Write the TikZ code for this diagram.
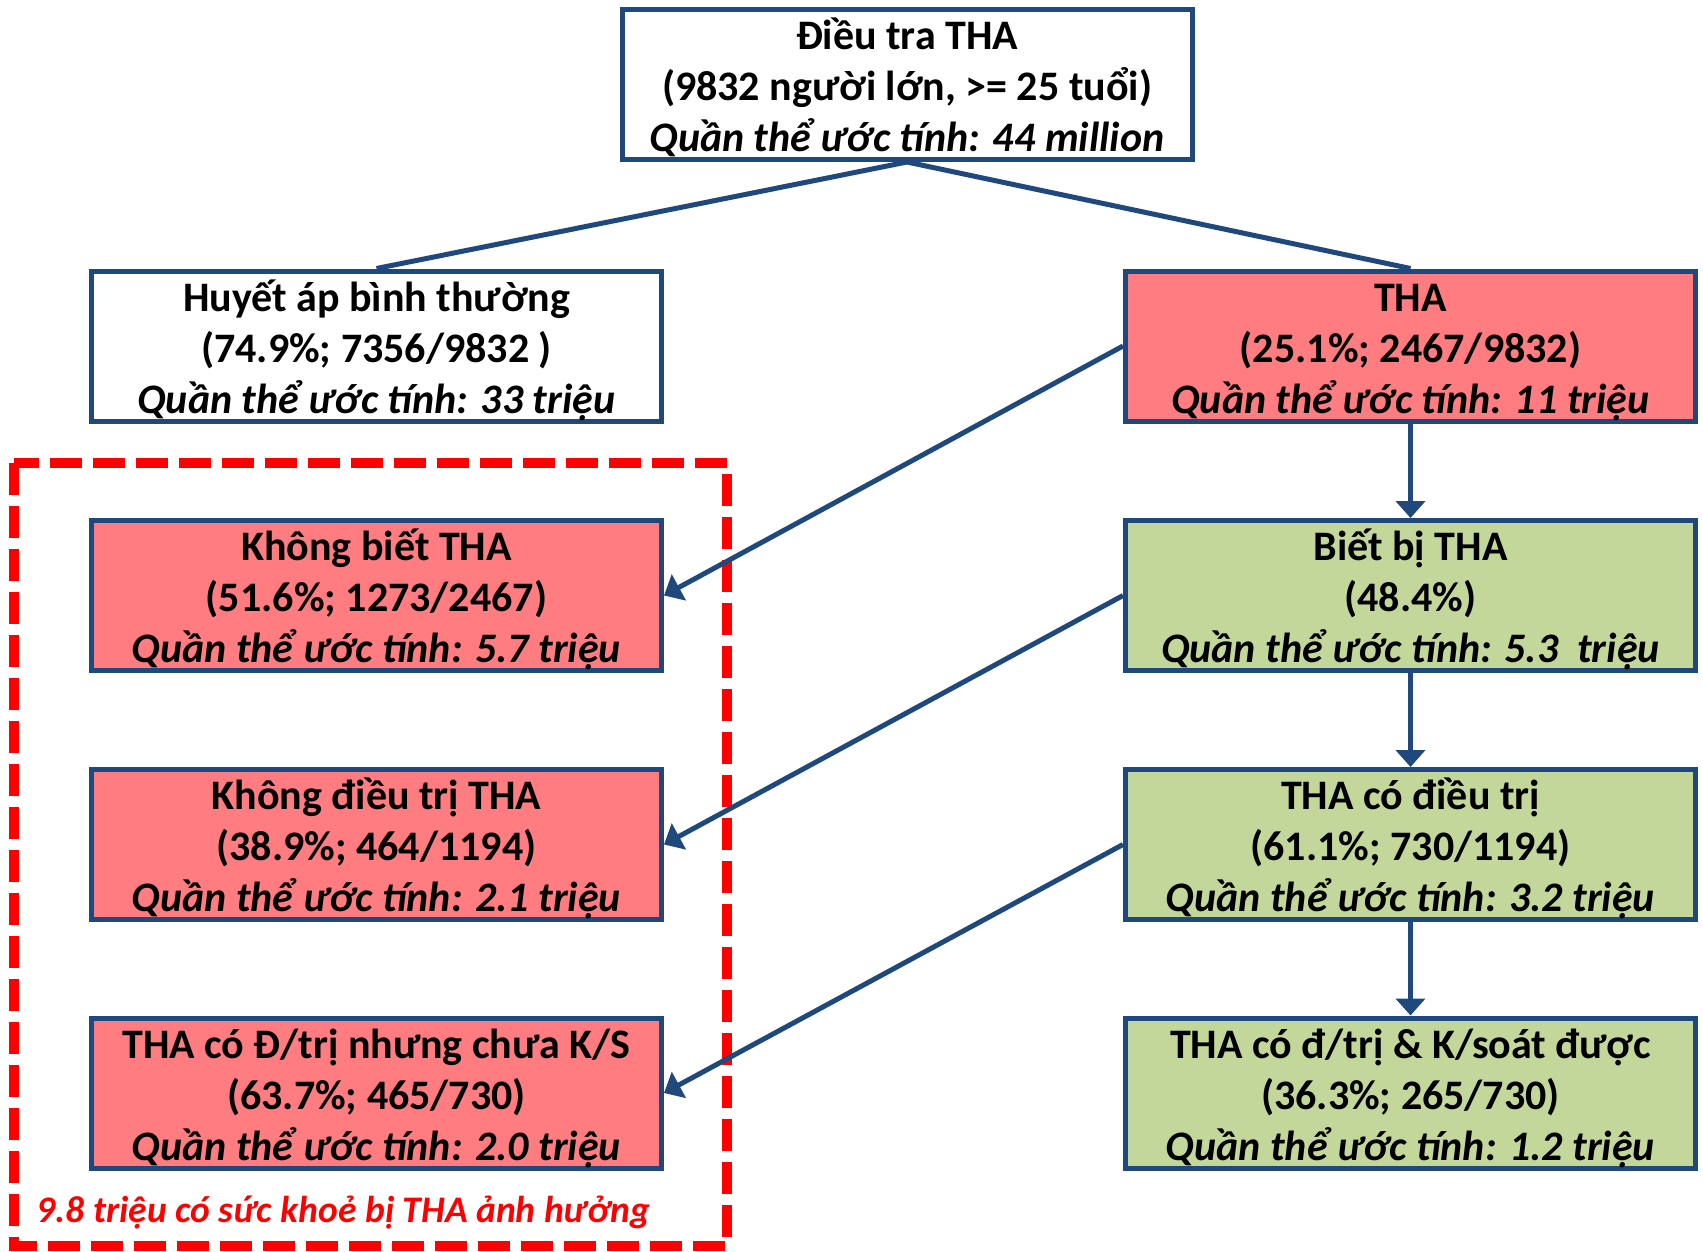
\documentclass[tikz,border=0pt]{standalone}
\usepackage{fontspec}
\setmainfont{Carlito}
\usetikzlibrary{arrows.meta}
\definecolor{bblue}{RGB}{31,73,125}
\definecolor{pinkfill}{RGB}{255,124,128}
\definecolor{greenfill}{RGB}{196,215,155}
\definecolor{redline}{RGB}{255,0,0}
\newcommand\boxlines[3]{\smash{\raisebox{-12.5pt}{\begin{tabular}{@{}c@{}}#1\\#2\\\textit{#3}\end{tabular}}}}
\tikzset{
  box/.style={draw=bblue, line width=5pt, minimum width=570pt, minimum height=150pt,
    inner sep=0pt, font=\bfseries\fontsize{42}{51}\selectfont},
  redbox/.style={box, fill=pinkfill},
  greenbox/.style={box, fill=greenfill},
  whitebox/.style={box, fill=white},
  link/.style={draw=bblue, line width=5pt},
  arrowlink/.style={link, -{Triangle[length=17pt,width=29pt]}},
  areabox/.style={draw=redline, line width=10.5pt, dash pattern=on 32pt off 11pt},
}
\begin{document}
\begin{tikzpicture}[x=1pt,y=-1pt]
\useasboundingbox (0,0) rectangle (1703,1252);
\draw[areabox] (14,463) rectangle (727,1246);
\node[whitebox] (top) at (907,84.5) {\boxlines{Điều tra THA}{(9832 người lớn, >= 25 tuổi)}{Quần thể ước tính: 44 million}};
\node[whitebox] (normal) at (376.5,346) {\boxlines{Huyết áp bình thường}{(74.9\%; 7356/9832 )}{Quần thể ước tính: 33 triệu}};
\node[redbox] (tha) at (1410.5,346) {\boxlines{THA}{(25.1\%; 2467/9832)}{Quần thể ước tính: 11 triệu}};
\node[redbox] (unaware) at (376.5,595.5) {\boxlines{Không biết THA}{(51.6\%; 1273/2467)}{Quần thể ước tính: 5.7 triệu}};
\node[greenbox] (aware) at (1410.5,595.5) {\boxlines{Biết bị THA}{(48.4\%)}{Quần thể ước tính: 5.3\ \ triệu}};
\node[redbox] (untreated) at (376.5,844.5) {\boxlines{Không điều trị THA}{(38.9\%; 464/1194)}{Quần thể ước tính: 2.1 triệu}};
\node[greenbox] (treated) at (1410.5,844.5) {\boxlines{THA có điều trị}{(61.1\%; 730/1194)}{Quần thể ước tính: 3.2 triệu}};
\node[redbox] (uncontrolled) at (376.5,1093) {\boxlines{THA có Đ/trị nhưng chưa K/S}{(63.7\%; 465/730)}{Quần thể ước tính: 2.0 triệu}};
\node[greenbox] (controlled) at (1410.5,1093) {\boxlines{THA có đ/trị \& K/soát được}{(36.3\%; 265/730)}{Quần thể ước tính: 1.2 triệu}};
\node[text=redline, font=\bfseries\itshape\fontsize{37.5}{45}\selectfont, inner sep=0pt, anchor=base] (label) at (343.5,1222) {9.8 triệu có sức khoẻ bị THA ảnh hưởng};
\draw[link] (top.south) -- (normal.north);
\draw[link] (top.south) -- (tha.north);
\draw[arrowlink] (tha.south) -- (aware.north);
\draw[arrowlink] (aware.south) -- (treated.north);
\draw[arrowlink] (treated.south) -- (controlled.north);
\draw[arrowlink] (tha.west) -- (unaware.east);
\draw[arrowlink] (aware.west) -- (untreated.east);
\draw[arrowlink] (treated.west) -- (uncontrolled.east);
\end{tikzpicture}
\end{document}
